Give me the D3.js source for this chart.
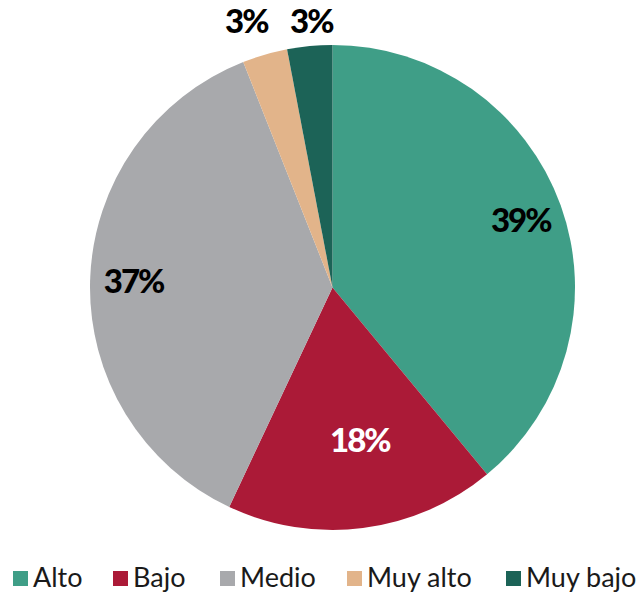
<!DOCTYPE html>
<html>
<head>
<meta charset="utf-8">
<script src="https://cdn.jsdelivr.net/npm/d3@7"></script>
<style>
  body { margin: 0; background: #fff; }
  svg { display: block; }
</style>
</head>
<body>
<script>
// data
var categories = ["Alto", "Bajo", "Medio", "Muy alto", "Muy bajo"];
var values = [39, 18, 37, 3, 3];
var colors = ["#3f9e87", "#ab1a37", "#a8a9ac", "#e2b48a", "#1c6357"];
var labelColors = ["#000", "#fff", "#000", "#000", "#000"];
// label distance from centre, plus a small sideways nudge
var labelRadius = [200, 154, 199, 277, 268];
var labelNudge = [0, 8, 0, -9, 4];

var width = 642, height = 595;
var cx = 332.5, cy = 287.5, radius = 242.5;

var svg = d3.select("body").append("svg")
    .attr("width", width)
    .attr("height", height);

var pie = d3.pie().sort(null).value(function(d) { return d; });
var arcs = pie(values);

var arc = d3.arc().innerRadius(0).outerRadius(radius);

var g = svg.append("g").attr("transform", "translate(" + cx + "," + cy + ")");

g.selectAll("path")
    .data(arcs)
    .enter().append("path")
        .attr("d", arc)
        .attr("fill", function(d, i) { return colors[i]; });

g.selectAll("text")
    .data(arcs)
    .enter().append("text")
        .attr("transform", function(d, i) {
            var r = labelRadius[i];
            var c = d3.arc().innerRadius(r).outerRadius(r).centroid(d);
            return "translate(" + (c[0] + labelNudge[i]) + "," + c[1] + ")";
        })
        .attr("text-anchor", "middle")
        .attr("dy", "0.36em")
        .attr("font-family", "Lato, sans-serif")
        .attr("font-weight", "900")
        .attr("font-size", "33px")
        .attr("letter-spacing", "-2px")
        .attr("fill", function(d, i) { return labelColors[i]; })
        .text(function(d) { return d.data + "%"; });

// legend
var legendX = [13, 113, 220, 347, 506];
var legend = svg.selectAll(".legend")
    .data(categories)
    .enter().append("g")
        .attr("class", "legend")
        .attr("transform", function(d, i) { return "translate(" + legendX[i] + ",571)"; });

legend.append("rect")
    .attr("width", 15)
    .attr("height", 15)
    .attr("fill", function(d, i) { return colors[i]; });

legend.append("text")
    .attr("x", 20)
    .attr("y", 15.5)
    .attr("font-family", "Lato, sans-serif")
    .attr("font-size", "27px")
    .attr("fill", "#1a1a1a")
    .text(function(d) { return d; });
</script>
</body>
</html>
